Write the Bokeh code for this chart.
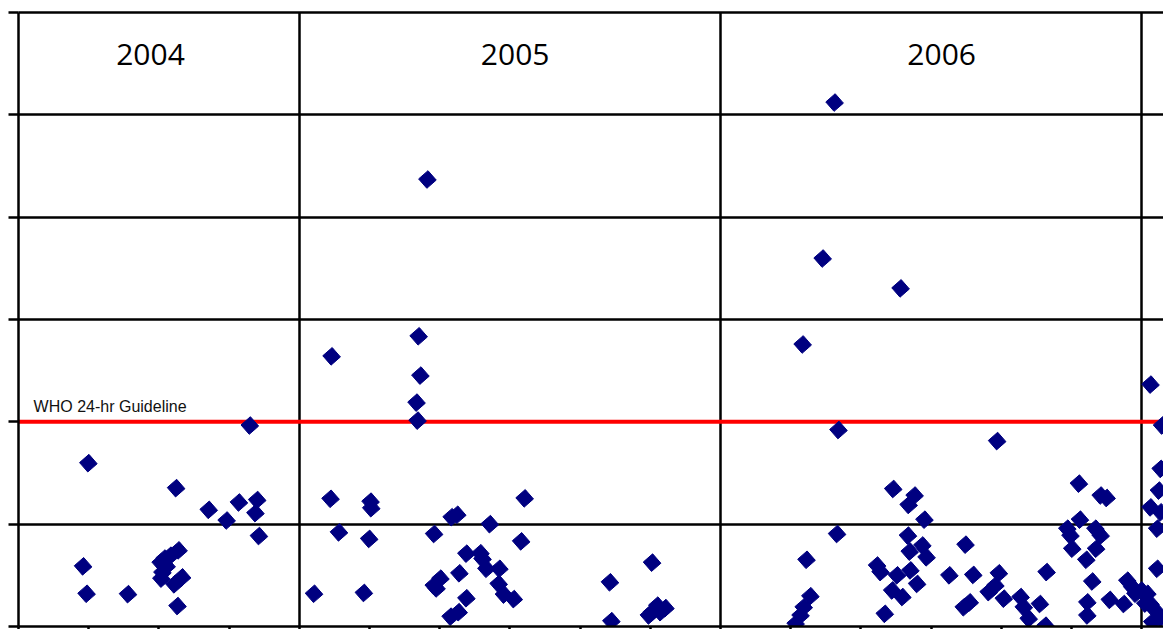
import math
from bokeh.plotting import figure
from bokeh.models import Range1d, FixedTicker, LinearAxis, Span, ColumnDataSource, Grid
from bokeh.core.properties import value
from bokeh.embed import file_html
from bokeh.resources import INLINE

# ---------------- data ----------------
# x: months since 1 May 2004 ; y: 24-hr concentration (ug/m3)
years = ["2004", "2005", "2006"]
year_label_month = [3.76, 14.15, 26.3]
year_boundaries = [8, 20, 32]
who_guideline = 50

months_2004 = [1.99, 1.84, 1.94, 3.12, 4.49, 4.56, 4.33, 4.16, 4.05, 4.22, 4.10, 4.07,
               4.66, 4.44, 4.53, 5.42, 5.93, 6.28, 6.80, 6.75, 6.85, 6.59]
conc_2004 = [39.9, 14.7, 8.0, 7.9, 33.8, 18.6, 17.3, 16.6, 15.6, 14.7, 13.2, 11.7,
             12.0, 10.3, 5.0, 28.5, 25.9, 30.3, 30.9, 27.7, 22.1, 49.1]

months_2005 = [8.42, 8.89, 8.92, 9.13, 9.84, 9.99, 10.03, 10.05, 11.40, 11.45, 11.34, 11.37,
               11.65, 11.84, 12.02, 11.83, 11.91, 12.34, 12.50, 12.31, 12.54, 12.56,
               12.76, 12.76, 13.16, 13.22, 13.33, 13.43, 13.70, 13.68, 13.83, 14.11,
               14.32, 14.42, 16.85, 16.89, 18.05, 17.96, 18.05, 18.20, 18.29, 18.43]
conc_2005 = [8.0, 31.2, 66.0, 23.0, 8.2, 21.4, 30.5, 28.9, 70.9, 61.3, 54.7, 50.3,
             109.2, 22.6, 11.7, 10.0, 9.3, 26.7, 27.3, 2.4, 3.5, 13.0,
             17.8, 6.9, 17.9, 16.5, 14.1, 25.0, 14.1, 10.4, 7.8, 6.7,
             20.8, 31.3, 10.8, 1.3, 15.6, 2.7, 3.5, 5.1, 3.5, 4.5]

months_2006 = [22.14, 22.28, 22.37, 22.56, 22.45, 22.34, 22.91, 23.25, 23.36, 23.32,
               24.46, 24.56, 24.68, 24.89, 24.92, 25.03, 25.13, 25.18, 25.34, 25.36,
               25.39, 25.41, 25.53, 25.60, 25.75, 25.81, 25.87, 26.52, 26.93, 27.10,
               26.98, 27.20, 27.64, 27.83, 27.88, 27.93, 28.07, 28.55, 28.64, 28.78,
               29.10, 29.26, 29.29, 29.88, 29.97, 30.02, 30.21, 30.24, 30.42, 30.45,
               30.45, 30.59, 30.68, 30.83, 30.70, 30.83, 31.00, 31.09, 31.49, 31.59,
               31.73, 31.82]
conc_2006 = [0.7, 2.7, 4.7, 7.4, 16.3, 68.9, 89.9, 128.0, 48.0, 22.6,
             14.9, 13.3, 3.1, 8.8, 33.6, 12.5, 82.6, 7.2, 22.2, 29.7,
             18.3, 13.7, 32.0, 10.4, 19.8, 26.1, 16.9, 12.5, 4.7, 5.9,
             20.0, 12.6, 8.4, 10.0, 45.3, 13.0, 6.8, 7.2, 4.7, 1.9,
             5.5, 0.2, 13.3, 23.9, 22.2, 19.0, 34.9, 26.1, 16.3, 5.9,
             2.7, 11.0, 23.9, 22.2, 19.0, 32.0, 31.4, 6.5, 5.5, 11.2,
             9.6, 8.0]

months_2007 = [32.16, 32.25, 32.39, 32.30, 32.25, 32.58, 32.54, 32.49, 32.25, 32.54,
               32.44, 32.44, 31.99, 32.10, 32.54]
conc_2007 = [8.0, 5.5, 3.9, 1.1, 59.1, 49.1, 38.5, 33.2, 29.1, 27.9,
             23.9, 14.1, 8.8, 5.6, 2.0]

month_ticks = list(range(0, 34, 2))
conc_ticks = [0, 25, 50, 75, 100, 125, 150]

# ---------------- figure ----------------
p = figure(width=1163, height=629, output_backend="svg", toolbar_location=None,
           x_range=Range1d(0, 32.62), y_range=Range1d(0, 150),
           x_axis_type=None, y_axis_type=None,
           min_border_left=18, min_border_right=0, min_border_top=12, min_border_bottom=3)
p.outline_line_color = None
p.background_fill_color = "white"
p.border_fill_color = "white"

yaxis = LinearAxis(ticker=FixedTicker(ticks=conc_ticks))
xaxis = LinearAxis(ticker=FixedTicker(ticks=month_ticks))
topaxis = LinearAxis(ticker=FixedTicker(ticks=[]))
for ax, tick_out in ((yaxis, 10), (xaxis, 3), (topaxis, 0)):
    ax.axis_line_color = "black"
    ax.axis_line_width = 2.5
    ax.major_tick_line_color = "black"
    ax.major_tick_line_width = 2.5
    ax.major_tick_out = tick_out
    ax.major_tick_in = 0
    ax.minor_tick_line_color = None
    ax.major_label_text_font_size = "0px"
    ax.major_label_text_color = None
    ax.major_label_standoff = 0
p.add_layout(yaxis, "left")
p.add_layout(xaxis, "below")
p.add_layout(topaxis, "above")

p.add_layout(Grid(dimension=1, ticker=FixedTicker(ticks=conc_ticks[1:]),
                  grid_line_color="black", grid_line_width=2.5))
p.add_layout(Grid(dimension=0, ticker=FixedTicker(ticks=year_boundaries),
                  grid_line_color="black", grid_line_width=2.5))

p.add_layout(Span(location=who_guideline, dimension="width", line_color="#ff0000",
                  line_width=4, level="underlay"))

all_m = months_2004 + months_2005 + months_2006 + months_2007
all_c = conc_2004 + conc_2005 + conc_2006 + conc_2007
p.scatter(all_m, all_c, marker="square", size=12.5, angle=0.72,
          fill_color="#000080", line_color="#000080", line_width=1)

ysrc = ColumnDataSource(dict(x=year_label_month, y=[139.8] * len(years), t=years))
p.text(x="x", y="y", text="t", source=ysrc, text_font=value("Open Sans"),
       text_font_size="30px", text_color="black", text_align="center",
       text_baseline="middle")

p.text(x=[0.43], y=[53.8], text=["WHO 24-hr Guideline"],
       text_font=value("Liberation Sans"), text_font_size="16px",
       text_color="#111111", text_align="left", text_baseline="alphabetic")

open("out.html", "w").write(file_html(p, INLINE))
